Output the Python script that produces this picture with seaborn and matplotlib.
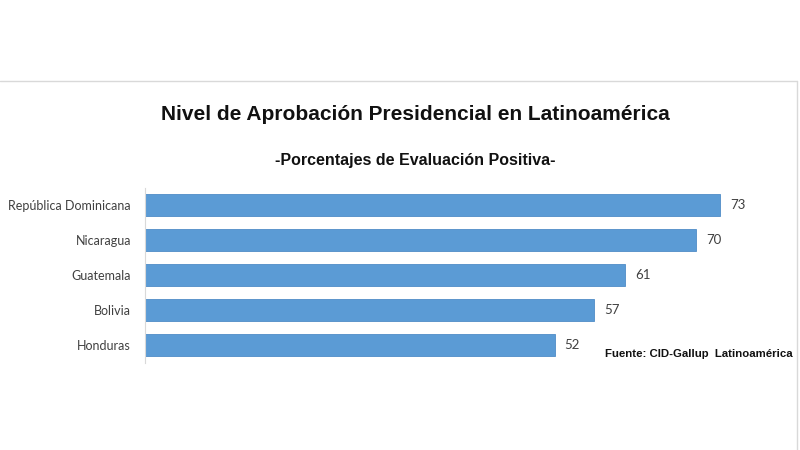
import seaborn as sns
import pandas as pd
import matplotlib.pyplot as plt
from matplotlib.lines import Line2D

# data
paises = ["República Dominicana", "Nicaragua", "Guatemala", "Bolivia", "Honduras"]
aprobacion = [73, 70, 61, 57, 52]

df = pd.DataFrame({"pais": paises, "valor": aprobacion})

sns.set_style("white")
plt.rcParams['font.family'] = ['Liberation Sans', 'DejaVu Sans']

fig = plt.figure(figsize=(8, 4.5), dpi=100)
ax = fig.add_axes([145/800, 1-362.5/450, 630/800, 175/450])

sns.barplot(data=df, x="valor", y="pais", color="#5B9BD5", saturation=1,
            width=0.63, ax=ax, edgecolor="#4F8CC7", linewidth=0.6)

ax.set_xlim(0, 80)
ax.set_xlabel("")
ax.set_ylabel("")
ax.set_xticks([])
for s in ["top", "right", "bottom"]:
    ax.spines[s].set_visible(False)
ax.spines["left"].set_color("#d9d9d9")
ax.tick_params(axis="y", length=0, pad=10)
for lbl in ax.get_yticklabels():
    lbl.set_family("Lato")
    lbl.set_fontsize(9)
    lbl.set_color("#404040")

for i, v in enumerate(aprobacion):
    ax.text(v + 1.3, i, str(v), va="center", ha="left", fontsize=9.5,
            family="Lato", color="#404040")

fig.text(415/800, 1-115/450, "Nivel de Aprobación Presidencial en Latinoamérica",
         ha="center", va="center", fontsize=15, fontweight="bold", color="#111111")
fig.text(415/800, 1-160/450, "-Porcentajes de Evaluación Positiva-",
         ha="center", va="center", fontsize=11.5, fontweight="bold", color="#111111")
fig.text(793/800, 1-354/450, "Fuente: CID-Gallup  Latinoamérica",
         ha="right", va="center", fontsize=8.2, fontweight="bold", color="#111111")

# frame of the original picture
fig.add_artist(Line2D([0, 797/800], [1-81/450, 1-81/450], color="#d9d9d9", lw=1))
fig.add_artist(Line2D([797/800, 797/800], [1-81/450, 0], color="#d9d9d9", lw=1))

plt.savefig("out.png", dpi=100)
